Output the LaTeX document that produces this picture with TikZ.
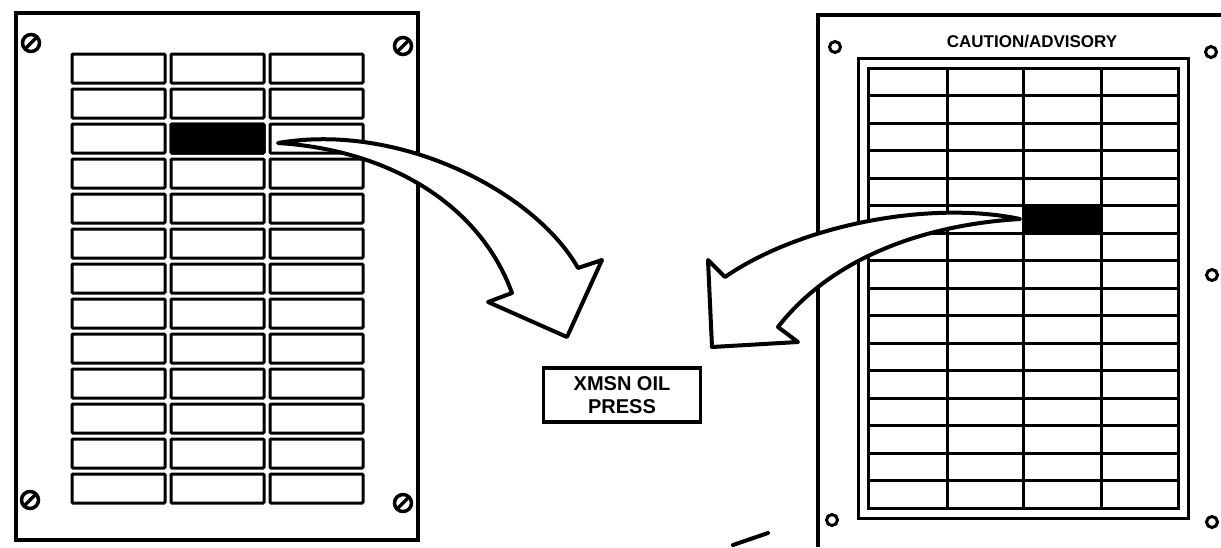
\documentclass[tikz,border=0pt]{standalone}
\usepackage{fontspec}
\setmainfont{Liberation Sans}
\usepackage{tikz}
\tikzset{
	panel/.style={black, line width=4pt},
	cell/.style={black, line width=3pt, rounded corners=1pt},
	litcell/.style={cell, fill=black},
	screw/.style={black, line width=3.5pt},
	hole/.style={black, line width=3pt},
	bigarrow/.style={black, line width=4pt, fill=white, line join=round},
	gridline/.style={black, line width=3pt}
}

\begin{document}
\begin{tikzpicture}[x=1pt,y=-1pt]
				\useasboundingbox (0,0) rectangle (1221,547);
				\draw[panel] (16,13) rectangle (418,540);
				\foreach \k in {0,...,12} {
					\foreach \cx in {72,171,270} {
						\draw[cell] (\cx,54+35*\k) rectangle (\cx+93,83+35*\k);
					}
				}
				\draw[litcell] (171,124) rectangle (264,153);
				\foreach \sx/\sy in {31/43, 403/46, 30/500, 403/503} {
					\draw[screw] (\sx,\sy) circle (8.5pt);
					\draw[screw] (\sx+5.5,\sy-5.5) -- (\sx-5.5,\sy+5.5);
				}
				\draw[panel] (818,547) -- (818,15) -- (1221,15);
				\node[font=\fontsize{17}{19}\selectfont\bfseries] (title) at (1032,42) {CAUTION/ADVISORY};
				\foreach \hx/\hy in {835/47, 1211/52, 1212/275, 832/520, 1212/522} {
					\draw[hole] (\hx,\hy) circle (5.5pt);
				}
				\draw[hole] (858,58) rectangle (1188,518);
				\fill[black] (1023,205.5) rectangle (1101,233);
				\draw[gridline] (868,68) rectangle (1178,508);
				\foreach \gx in {947,1023,1101} {
					\draw[gridline] (\gx,68) -- (\gx,508);
				}
				\foreach \k in {1,...,15} {
					\draw[gridline] (868,68+27.5*\k) -- (1178,68+27.5*\k);
				}
				\draw[bigarrow] (278,143) .. controls (400,122) and (535,192) .. (578,268)
					-- (602,260) -- (567,337) -- (488,302) -- (512,293)
					.. controls (480,205) and (390,150) .. (278,143) -- cycle;
				\draw[bigarrow] (1020,219) .. controls (930,200) and (800,225) .. (725,277)
					-- (708,260) -- (712,347) -- (798,342) -- (778,327)
					.. controls (830,260) and (920,225) .. (1020,219) -- cycle;
				\node[draw, line width=3.5pt, minimum width=157pt, minimum height=54pt, inner sep=0pt, align=center,
					font=\fontsize{20}{23}\selectfont\bfseries] (oilpress) at (622,395) {XMSN OIL\\PRESS};
				\draw[panel, line cap=round] (733,545) -- (768,533);
			\end{tikzpicture}
\end{document}
